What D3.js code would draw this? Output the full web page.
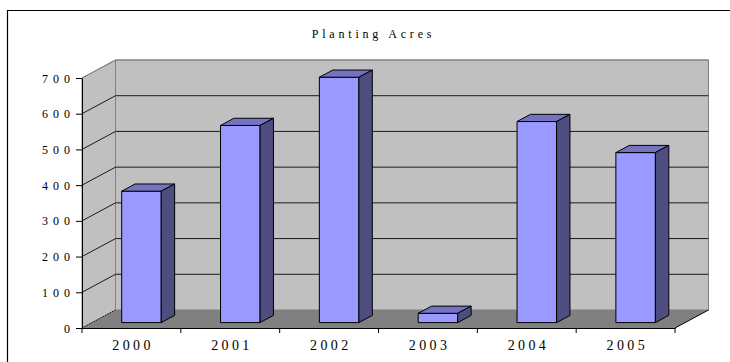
<!DOCTYPE html>
<html><head><meta charset="utf-8">
<script src="https://cdn.jsdelivr.net/npm/d3@7/dist/d3.min.js"></script>
<style>
body{margin:0;background:#fff;}svg{display:block;}
.serif{font-family:"Liberation Serif","Times New Roman","DejaVu Serif",serif;}
</style>
</head><body>
<svg id="c" width="730" height="362"></svg>
<script>
const title = "Planting Acres";
const categories = ["2000", "2001", "2002", "2003", "2004", "2005"];
const values = [368, 552, 687, 26, 563, 476];
const yTicks = [0, 100, 200, 300, 400, 500, 600, 700];

const svg = d3.select("#c");
const DX = 33.5, DY = -18;           // depth offset of the 3D box
const F0 = 0.3, F1 = 0.7;             // bar depth span (fraction)
const FONT = '"Liberation Serif","Times New Roman","DejaVu Serif",serif';

const x = d3.scaleBand().domain(categories).range([82, 675]).paddingInner(0).paddingOuter(0);
const y = d3.scaleLinear().domain([0, 700]).range([328, 78]);
const bw = x.bandwidth();
const x0 = x.range()[0], x1 = x.range()[1];
const yTop = y(700), yBot = y(0);

// outer border (left and top edges visible)
svg.append("path").attr("d", "M7.5,362V10.5H730").attr("fill", "none").attr("stroke", "#000").attr("stroke-width", 1.2);

// title
svg.append("text").attr("x", 373.5).attr("y", 38.3).attr("text-anchor", "middle")
  .style("font-family", FONT).attr("font-size", 12).attr("letter-spacing", 3.8)
  .attr("fill", "#000").text(title);

const line = d3.line();
const poly = pts => "M" + pts.map(p => p.join(",")).join("L") + "Z";

// side wall
svg.append("path").attr("d", poly([[x0, yTop], [x0 + DX, yTop + DY], [x0 + DX, yBot + DY], [x0, yBot]]))
  .attr("fill", "#C0C0C0").attr("stroke", "#808080");
// back wall
svg.append("rect").attr("x", x0 + DX).attr("y", yTop + DY).attr("width", x1 - x0).attr("height", yBot - yTop)
  .attr("fill", "#C0C0C0").attr("stroke", "#808080");

// gridlines
const gl = yTicks.filter(v => v > 0 && v < 700);
svg.append("g").selectAll("path").data(gl).join("path")
  .attr("d", v => line([[x0, y(v)], [x0 + DX, y(v) + DY], [x1 + DX, y(v) + DY]]))
  .attr("fill", "none").attr("stroke", "#1a1a1a").attr("stroke-width", 1);
svg.append("path").attr("d", line([[x0, yTop], [x0 + DX, yTop + DY], [x1 + DX, yTop + DY]]))
  .attr("fill", "none").attr("stroke", "#808080");

// floor
svg.append("path").attr("d", poly([[x0, yBot], [x1, yBot], [x1 + DX, yBot + DY], [x0 + DX, yBot + DY]]))
  .attr("fill", "#808080");
svg.append("path").attr("d", line([[x0, yBot], [x0 + DX, yBot + DY]]))
  .attr("stroke", "#000").attr("stroke-dasharray", "1,1").attr("fill", "none");
svg.append("path").attr("d", line([[x1, yBot], [x1 + DX, yBot + DY]]))
  .attr("stroke", "#000").attr("fill", "none");

// bars
const bars = svg.append("g").selectAll("g").data(categories.map((c, i) => ({ c, v: values[i] }))).join("g");
bars.each(function (d) {
  const g = d3.select(this);
  const a = x(d.c) + 0.3 * bw, b = x(d.c) + 0.7 * bw;
  const yt = y(d.v), yb = y(0);
  const P = (px, py, f) => [px + f * DX, py + f * DY];
  g.append("path").attr("d", poly([P(a, yt, F0), P(b, yt, F0), P(b, yb, F0), P(a, yb, F0)]))
    .attr("fill", "#9999FF").attr("stroke", "#000").attr("stroke-width", 1);
  g.append("path").attr("d", poly([P(a, yt, F0), P(b, yt, F0), P(b, yt, F1), P(a, yt, F1)]))
    .attr("fill", "#7373BF").attr("stroke", "#000").attr("stroke-width", 1);
  g.append("path").attr("d", poly([P(b, yt, F0), P(b, yt, F1), P(b, yb, F1), P(b, yb, F0)]))
    .attr("fill", "#4D4D80").attr("stroke", "#000").attr("stroke-width", 1);
});

// y axis
const ya = svg.append("g").attr("transform", `translate(${x0},0)`)
  .call(d3.axisLeft(y).tickValues(yTicks).tickSize(6).tickSizeOuter(0).tickPadding(6));
ya.attr("font-family", null).attr("font-size", null);
ya.select(".domain").attr("stroke", "#000");
ya.selectAll(".tick line").attr("stroke", "#000");
ya.selectAll(".tick text").style("font-family", FONT).attr("font-size", 12)
  .attr("letter-spacing", 5).attr("dx", 5).attr("dy", "0.34em").attr("fill", "#000");

// x axis
const xa = svg.append("g").attr("transform", `translate(0,${yBot})`)
  .call(d3.axisBottom(x).tickSize(0).tickSizeOuter(0).tickPadding(12));
xa.attr("font-family", null).attr("font-size", null);
xa.select(".domain").attr("stroke", "#000");
xa.selectAll(".tick text").style("font-family", FONT).attr("font-size", 14)
  .attr("letter-spacing", 3.4).attr("dx", 1.7).attr("fill", "#000");
const bounds = categories.map(c => x(c)).concat([x1]);
xa.append("g").selectAll("line").data(bounds).join("line")
  .attr("x1", d => d).attr("x2", d => d).attr("y1", 0).attr("y2", 5).attr("stroke", "#000");
</script>
</body></html>
